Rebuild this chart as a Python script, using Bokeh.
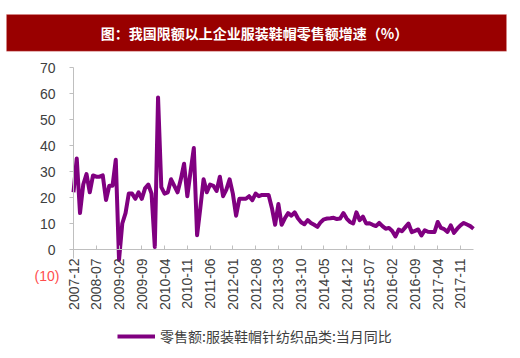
import pandas as pd
from bokeh.plotting import figure
from bokeh.models import (Range1d, FixedTicker, Label, Legend, LegendItem,
                          ColumnDataSource, LinearAxis, BoxAnnotation)
from bokeh.embed import file_html
from bokeh.resources import INLINE

# ---------------- data ----------------
title_text = "图：我国限额以上企业服装鞋帽零售额增速（%）"
series_name = "零售额:服装鞋帽针纺织品类:当月同比"

months = [str(m) for m in pd.period_range("2007-12", "2018-03", freq="M")]

growth = [
    22, 35, 14, 25, 29, 22, 28.5, 28, 28, 28.5,
    19, 24.5, 24.5, 34.5, -4, 10, 14, 21.5, 21.5, 19.5,
    22, 19.5, 23.5, 25, 21.5, 1, 58.5, 24, 21.5, 22,
    27, 24.5, 22, 27, 33, 20.5, 30, 39, 5.5, 16,
    27, 22, 25, 24.5, 22.5, 28, 20.5, 23, 27, 21.5,
    13, 19.5, 19.5, 19.5, 20.5, 19, 21.5, 20.5, 21, 21,
    21, 16, 9.5, 17.5, 9.5, 12, 14, 13, 14.3, 12,
    10.5, 9.7, 11.3, 10.2, 9.5, 8.7, 10.5, 11.6, 11.9, 12,
    12.2, 11.7, 11.9, 14, 11.9, 10.6, 10, 14.3, 11.3, 12.6,
    10, 10.1, 9.5, 9, 10.2, 9, 8, 8.3, 7.1, 5,
    7.7, 7, 8.5, 10, 6.7, 7.2, 7.7, 5.4, 7.4, 6.8,
    6.7, 6.7, 10.6, 8.3, 7.8, 6.8, 9.3, 6.4, 8, 9.3,
    10.2, 9.6, 9, 8,
]

x_tick_labels = ["2007-12", "2008-07", "2009-02", "2009-09", "2010-04", "2010-11",
                 "2011-06", "2012-01", "2012-08", "2013-03", "2013-10", "2014-05",
                 "2014-12", "2015-07", "2016-02", "2016-09", "2017-04", "2017-11"]

y_ticks = [0, 10, 20, 30, 40, 50, 60, 70]
y_neg_tick = -10
y_neg_label = "(10)"

# ---------------- layout geometry (page pixels) ----------------
W, H = 516, 354          # figure size
PAGE_OFF = 0             # the exported page places the figure at its top-left corner
X_AXIS_LEFT = 73         # page x of first month
X_AXIS_RIGHT = 473       # page x of last month
Y_ZERO = 249             # page y of value 0
PX_PER_UNIT = 2.6        # vertical pixels per percentage point

n = len(months)
px_per_month = (X_AXIS_RIGHT - X_AXIS_LEFT) / (n - 1)


def dx(px):
    return (px - X_AXIS_LEFT) / px_per_month


def dy(py):
    return (Y_ZERO - py) / PX_PER_UNIT


# ---------------- styling ----------------
AXIS_GRAY = "#bfbfbf"
TEXT_GRAY = "#404040"
PURPLE = "#800080"
LATIN = "Liberation Sans"
CJK = "Noto Sans CJK SC"

# ---------------- figure (frame covers whole canvas) ----------------
p = figure(width=W, height=H,
           x_range=Range1d(dx(PAGE_OFF), dx(PAGE_OFF + W)),
           y_range=Range1d(dy(PAGE_OFF + H), dy(PAGE_OFF)),
           output_backend="svg", toolbar_location=None,
           x_axis_type=None, y_axis_type=None,
           min_border=0, min_border_left=0, min_border_right=0,
           min_border_top=0, min_border_bottom=0)
p.outline_line_color = None
p.background_fill_color = "white"
p.border_fill_color = "white"

# title banner
p.add_layout(BoxAnnotation(left=dx(6), right=dx(506), top=dy(14), bottom=dy(50.7),
                           fill_color="#990000", fill_alpha=1.0,
                           line_color="#e09090", line_width=1, level="underlay"))
p.add_layout(Label(x=dx(254), y=dy(32.5), text=title_text, text_align="center",
                   text_baseline="middle", text_color="white", text_font=CJK,
                   text_font_style="bold", text_font_size="14px"))

# axes
tick_pos = [months.index(lab) for lab in x_tick_labels]
xaxis = LinearAxis(ticker=FixedTicker(ticks=tick_pos),
                   major_label_overrides={pos: lab for pos, lab in zip(tick_pos, x_tick_labels)},
                   fixed_location=0, bounds=(0, n - 1))
xaxis.axis_line_color = AXIS_GRAY
xaxis.major_tick_line_color = AXIS_GRAY
xaxis.major_tick_in = 4
xaxis.major_tick_out = 0
xaxis.minor_tick_line_color = None
xaxis.major_label_orientation = 3.14159265 / 2
xaxis.major_label_standoff = 9
xaxis.major_label_text_font = LATIN
xaxis.major_label_text_font_size = "14px"
xaxis.major_label_text_color = TEXT_GRAY
p.add_layout(xaxis, "below")

yaxis = LinearAxis(ticker=FixedTicker(ticks=y_ticks), fixed_location=0,
                   bounds=(-3.5, y_ticks[-1]))
yaxis.axis_line_color = AXIS_GRAY
yaxis.major_tick_line_color = AXIS_GRAY
yaxis.major_tick_in = 0
yaxis.major_tick_out = 4
yaxis.minor_tick_line_color = None
yaxis.major_label_standoff = 14
yaxis.major_label_text_font = LATIN
yaxis.major_label_text_font_size = "14px"
yaxis.major_label_text_color = TEXT_GRAY
p.add_layout(yaxis, "left")

p.add_layout(Label(x=dx(59), y=y_neg_tick, text=y_neg_label, text_align="right",
                   text_baseline="middle", text_color="#ff4d4d", text_font=LATIN,
                   text_font_size="14px"))

# series
src = ColumnDataSource(dict(x=list(range(n)), y=growth, month=months))
r = p.line(x="x", y="y", source=src, line_color=PURPLE, line_width=4,
           line_join="round")

legend = Legend(items=[LegendItem(label=series_name, renderers=[r])],
                location=(117 - PAGE_OFF, H - (346 - PAGE_OFF)), orientation="horizontal",
                padding=0, margin=0, border_line_color=None,
                background_fill_alpha=0, glyph_width=38, glyph_height=20,
                label_standoff=5, label_text_font=CJK, label_text_font_size="14px",
                label_text_color=TEXT_GRAY)
p.add_layout(legend)

with open("out.html", "w") as f:
    f.write(file_html(p, INLINE))
